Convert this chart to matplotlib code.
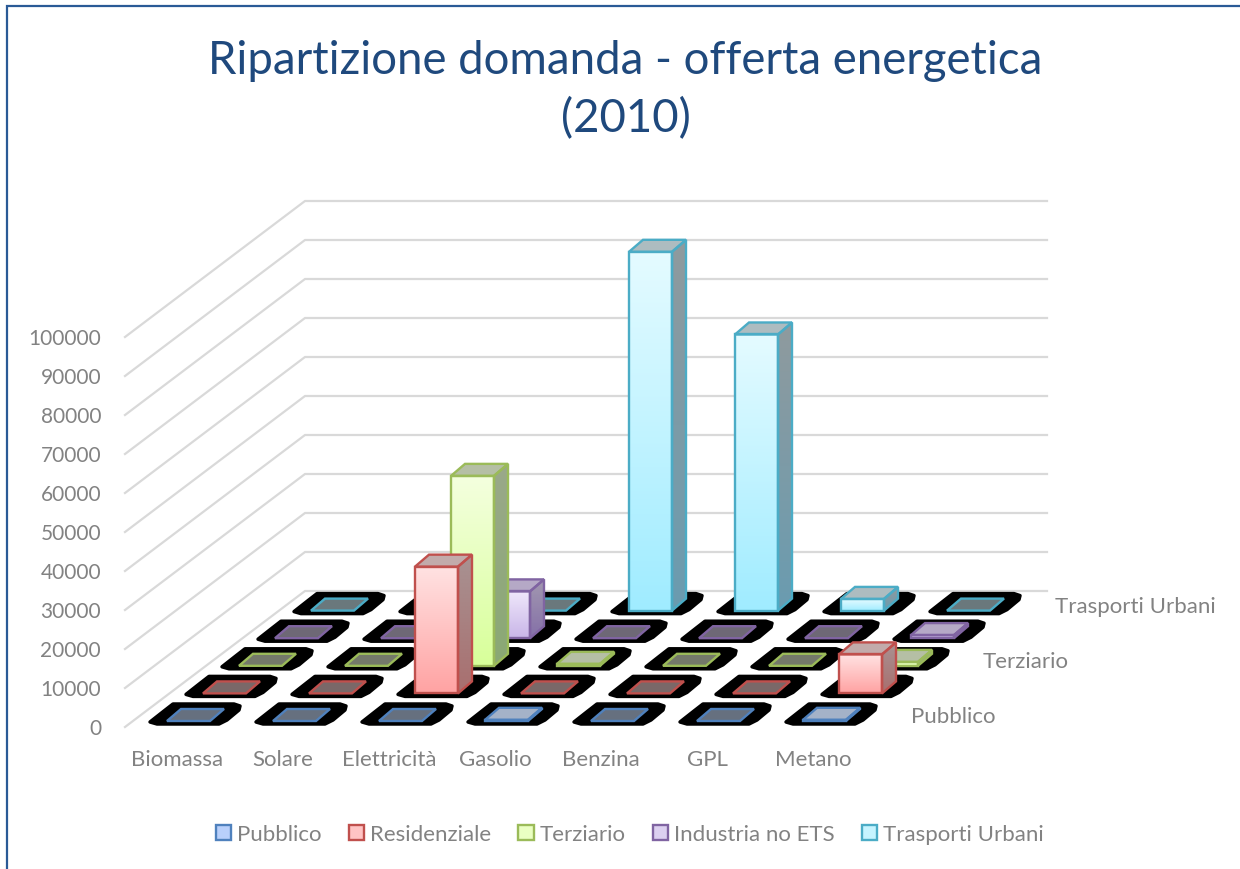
import numpy as np
import matplotlib
matplotlib.use("Agg")
import matplotlib.pyplot as plt
from matplotlib.colors import LinearSegmentedColormap
from matplotlib.patches import Polygon, Patch

plt.rcParams['font.family'] = ['Lato', 'DejaVu Sans']

# ---- data ----
categories = ["Biomassa", "Solare", "Elettricità", "Gasolio", "Benzina", "GPL", "Metano"]
series_names = ["Pubblico", "Residenziale", "Terziario", "Industria no ETS", "Trasporti Urbani"]
pubblico = [0, 0, 0, 300, 0, 0, 300]
residenziale = [0, 0, 32500, 0, 0, 0, 10000]
terziario = [0, 0, 48700, 500, 0, 0, 1000]
industria = [0, 0, 12000, 0, 0, 0, 800]
trasporti = [0, 0, 0, 92000, 70800, 3000, 0]
value_ticks = list(range(0, 100001, 10000))
depth_labels = {0: "Pubblico", 2: "Terziario", 4: "Trasporti Urbani"}

series_values = [pubblico, residenziale, terziario, industria, trasporti]

# ---- styles ----
edge = ["#4f81bd", "#c0504d", "#9bbb59", "#8064a2", "#4bacc6"]
front_top = ["#c9dcff", "#ffe2e2", "#f4ffde", "#efe7fb", "#e4fbff"]
front_bot = ["#a3c4ff", "#ffa3a3", "#d8ff9a", "#c9b6e8", "#a0ecff"]
side_top = ["#8d99ab", "#a89292", "#9aa88a", "#a298b0", "#8f9a9e"]
side_bot = ["#6f8bb0", "#a86f6f", "#8aa874", "#8570a8", "#6a9cb0"]
top_solid = ["#a4b2c8", "#c2abab", "#b5bfa5", "#b5a9c6", "#adbcc0"]
top_zero = ["#66707f", "#7a6868", "#74796a", "#6e6876", "#6a787c"]
legend_fill = ["#b9d0fb", "#ffc4c4", "#eaffc2", "#dcd0f0", "#c6f4ff"]
grid_c = "#d9d9d9"
text_c = "#828282"

# ---- oblique projection (pixel geometry of the chart box) ----
X0, Y0 = 125.0, 728.0          # front-left floor corner
WALL_DX, WALL_DY = 180.0, -136.0
BACK_X = 1047.0
PX_PER_UNIT = 39.0 / 10000.0
CAT_STEP = 106.0
SER_DX, SER_DY = 36.0, -27.6
BAR_W = 43.0
BAR_DX, BAR_DY = 14.0, -12.0
FIRST_X, FIRST_Y = 167.0, 722.0
# floor-shadow outline, relative to a bar's front-left base point
BLOB = [(-17, 1), (-10, 3), (52, 3), (60, -1), (72, -11), (73, -15), (67, -17),
        (6, -17), (-3, -10)]


def base_point(c, s):
    return FIRST_X + CAT_STEP * c + SER_DX * s, FIRST_Y + SER_DY * s


def vy(v):
    return v * PX_PER_UNIT


fig = plt.figure(figsize=(12.4, 8.7), dpi=100, facecolor="white")
ax = fig.add_axes([0, 0, 1, 1])


def grad_face(pts, c1, c2, z):
    pts = np.array(pts)
    poly = Polygon(pts, closed=True, transform=ax.transData, fc="none", ec="none")
    ax.add_patch(poly)
    cmap = LinearSegmentedColormap.from_list("g", [c1, c2])
    y0, y1 = pts[:, 1].min(), pts[:, 1].max()
    x0, x1 = pts[:, 0].min(), pts[:, 0].max()
    im = ax.imshow(np.linspace(0, 1, 64)[:, None], cmap=cmap, aspect="auto",
                   extent=(x0, x1, y1, y0), zorder=z, interpolation="bilinear")
    im.set_clip_path(poly)


# walls
for t in value_ticks:
    h = vy(t)
    ax.plot([X0, X0 + WALL_DX, BACK_X],
            [Y0 - h, Y0 + WALL_DY - h, Y0 + WALL_DY - h],
            color=grid_c, lw=1.6, zorder=1, solid_joinstyle="miter")
    ax.text(101, Y0 - h + 1.5, str(t), ha="right", va="center", fontsize=15, color=text_c)

# floor shadows
for s in range(len(series_values)):
    for c in range(len(categories)):
        x, y = base_point(c, s)
        blob = [(x + dx, y + dy) for dx, dy in BLOB]
        ax.add_patch(Polygon(blob, closed=True, fc="black", ec="black", lw=2.5,
                             joinstyle="round", zorder=2))

# bars, back to front
z = 3
for s in reversed(range(len(series_values))):
    vals = series_values[s]
    for c in range(len(categories)):
        v = vals[c]
        x, y = base_point(c, s)
        h = vy(v)
        A = (x, y - h)
        B = (x + BAR_W, y - h)
        C = (x + BAR_W + BAR_DX, y + BAR_DY - h)
        D = (x + BAR_DX, y + BAR_DY - h)
        E = (x, y)
        F = (x + BAR_W, y)
        G = (x + BAR_W + BAR_DX, y + BAR_DY)
        top_c = top_solid[s] if v > 0 else top_zero[s]
        if v > 0:
            grad_face([A, B, F, E], front_top[s], front_bot[s], z)
            grad_face([B, C, G, F], side_top[s], side_bot[s], z)
        ax.add_patch(Polygon([A, B, C, D], closed=True, fc=top_c, ec="none", zorder=z))
        z += 0.01
        kw = dict(closed=True, fc="none", ec=edge[s], lw=1.7, joinstyle="miter", zorder=z)
        if v > 0:
            ax.add_patch(Polygon([A, B, F, E], **kw))
            ax.add_patch(Polygon([B, C, G, F], **kw))
        ax.add_patch(Polygon([A, B, C, D], **kw))
        z += 0.01

# category labels
for c, name in enumerate(categories):
    x, _ = base_point(c, 0)
    ax.text(x + 10, 760, name, ha="center", va="center", fontsize=16, color=text_c)

# depth labels
for s, name in depth_labels.items():
    x, y = base_point(len(categories) - 1, s)
    ax.text(x + 108, y - 5, name, ha="left", va="center", fontsize=16, color=text_c)

# title
ax.text(625.5, 61, "Ripartizione domanda - offerta energetica", ha="center", va="center",
        fontsize=32.8, color="#1f497d")
ax.text(625.5, 119, "(2010)", ha="center", va="center", fontsize=32.8, color="#1f497d")

# legend
handles = [Patch(fc=legend_fill[i], ec=edge[i], lw=1.7, label=series_names[i])
           for i in range(len(series_names))]
leg = ax.legend(handles=handles, ncol=5, frameon=False, fontsize=16,
                loc="center", bbox_to_anchor=(630, 835), bbox_transform=ax.transData,
                handlelength=0.68, handleheight=0.68, handletextpad=0.28, columnspacing=1.22,
                labelcolor=text_c, borderpad=0, borderaxespad=0)

# chart frame
ax.plot([7, 7, 1240], [870, 6.5, 6.5], color="#2a5a96", lw=1.6, zorder=50, solid_joinstyle="miter")

ax.set_xlim(0, 1240)
ax.set_ylim(870, 0)
ax.axis("off")
fig.savefig("out.png", dpi=100)
